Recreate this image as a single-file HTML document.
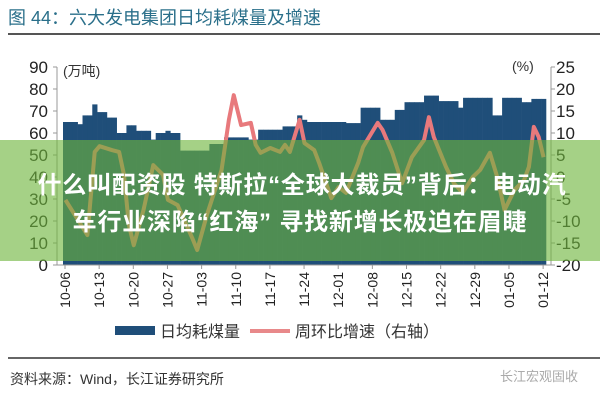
<!DOCTYPE html>
<html><head><meta charset="utf-8"><style>
body{margin:0;background:#fff;width:600px;height:400px;overflow:hidden}
svg text{font-family:"Liberation Sans","Noto Sans CJK SC",sans-serif}
</style></head><body>
<svg id="chart" width="600" height="400" viewBox="0 0 600 400" xmlns="http://www.w3.org/2000/svg">
<text x="8" y="24" font-size="18" fill="#2a6f8a">图 44：六大发电集团日均耗煤量及增速</text>
<line x1="8" y1="34" x2="600" y2="34" stroke="#555" stroke-width="2"/>
<g id="plot"></g>
<text x="63" y="76" font-size="14" fill="#333">(万吨)</text>
<text x="512" y="71" font-size="14" fill="#333">(%)</text>
<rect x="115" y="326" width="40" height="9" fill="#1f4e79"/>
<text x="160" y="337" font-size="16" fill="#333">日均耗煤量</text>
<line x1="250" y1="331" x2="290" y2="331" stroke="#e8898a" stroke-width="4"/>
<text x="295" y="337" font-size="16" fill="#333">周环比增速（右轴）</text>
<line x1="8" y1="358" x2="600" y2="358" stroke="#666" stroke-width="2"/>
<text x="10" y="384" font-size="14" fill="#333">资料来源：Wind，长江证券研究所</text>
<text x="500" y="381" font-size="13" fill="#aaa">长江宏观固收</text>
<rect x="0" y="140" width="600" height="121" fill="rgb(110,180,60)" fill-opacity="0.62"/>
<text x="302" y="193" font-size="24" font-weight="bold" letter-spacing="0.8" fill="#fff" text-anchor="middle">什么叫配资股 特斯拉“全球大裁员”背后：电动汽</text>
<text x="300" y="230" font-size="24" font-weight="bold" letter-spacing="0.8" fill="#fff" text-anchor="middle">车行业深陷“红海” 寻找新增长极迫在眉睫</text>
</svg>
<script>
const barValues=[65,65,65,64,68,68,73,69.5,69.5,67,67,60,60,63.5,63.5,61,61,61,57,60,60,61,60,60,52,52,52,52,52,52,55,55,55,58,58,58,58,58,57,57,61.5,61.5,61.5,61.5,61.5,63,63,63,68,66,65,65,65,65,65,65,65,65,64.5,64.5,64.5,71.5,71.5,71.5,71.5,66,66,66,70.5,70.5,74,74,74,74,77,77,77,74.5,74.5,74.5,74.5,71.5,76,76,76,76,76,76,68,68,76,76,76,76,74,74,75.5,75.5,75.5];
const lineDays=[0,4.5,6,7,9.6,11,12,13,14,16,18,20,21,23,26,27,29,32,33.5,34.5,36,38,39,40,42,44,45,46,48,49,51,52,54.5,56,57.5,60,61,64,65,67,69,71,73.5,74.5,75.5,78,79.6,81.4,83.5,85,87,88.5,90,92,94,95,96,97,98];
const lineValues=[-5.2,-13.2,5.7,7,6.1,5.7,0.5,-10.9,-15.5,-7.5,2.7,0.5,-5.2,-6.4,-13.9,-16.6,-8.6,1.6,13,18.6,11.8,12.3,7.3,5.5,6.6,5.7,7.3,5.7,13,7.7,6.1,3.2,-4.8,-2.3,-3.6,3.2,6.8,12.3,10.7,5.5,-1.4,4.5,8.4,13.6,9.1,2.3,-1.4,-3.6,0,1.6,5.5,0,-7.5,-3,-0.7,2.3,11.4,9.1,4.5];
const leftTicks=[0,10,20,30,40,50,60,70,80,90];
const rightTicks=[-20,-15,-10,-5,0,5,10,15,20,25];
const xLabels=["10-06","10-13","10-20","10-27","11-03","11-10","11-17","11-24","12-01","12-08","12-15","12-22","12-29","01-05","01-12"];
const NS="http://www.w3.org/2000/svg";
const X0=63,X1=546,Y0=265,Y1=67,days=99;
const dayW=(X1-X0)/days;
const xDay=d=>X0+d*dayW;
const yL=v=>Y0-(v/90)*(Y0-Y1);
const yR=v=>Y0-((v+20)/45)*(Y0-Y1);
const g=document.getElementById('plot');
function mk(t,a){const e=document.createElementNS(NS,t);for(const k in a)e.setAttribute(k,a[k]);g.appendChild(e);return e;}
barValues.forEach((v,i)=>{
 const r=mk('rect',{x:xDay(i),y:yL(v),width:dayW+0.3,height:Y0-yL(v),fill:'#1f4e79'});
 
 
});
const pts=lineDays.map((d,i)=>xDay(d+0.5)+','+yR(lineValues[i])).join(' ');
const pl=mk('polyline',{points:pts,fill:'none',stroke:'#e8797c','stroke-width':4,'stroke-linejoin':'round'});


const ax=mk('line',{x1:57,y1:Y1,x2:57,y2:Y0,stroke:'#999'});


const ax2=mk('line',{x1:551,y1:Y1,x2:551,y2:Y0,stroke:'#999'});


const xb=mk('line',{x1:57,y1:Y0,x2:551,y2:Y0,stroke:'#999'});


leftTicks.forEach(v=>{
 mk('line',{x1:53,y1:yL(v),x2:57,y2:yL(v),stroke:'#999'});
 const t=mk('text',{x:48,y:yL(v)+6,'font-size':17,'text-anchor':'end',fill:'#222'});t.textContent=v;
 
 
});
rightTicks.forEach(v=>{
 mk('line',{x1:551,y1:yR(v),x2:555,y2:yR(v),stroke:'#999'});
 const t=mk('text',{x:556,y:yR(v)+6,'font-size':17,fill:'#222'});t.textContent=v;
 
 
});
xLabels.forEach((s,i)=>{
 const x=xDay(i*7)+2;
 mk('line',{x1:x,y1:Y0,x2:x,y2:Y0+4,stroke:'#999'});
 const t=mk('text',{x:0,y:0,'font-size':14,'text-anchor':'end',fill:'#222',transform:`translate(${x+5},${Y0+7}) rotate(-90)`});t.textContent=s;
 
 
});
</script>
</body></html>
